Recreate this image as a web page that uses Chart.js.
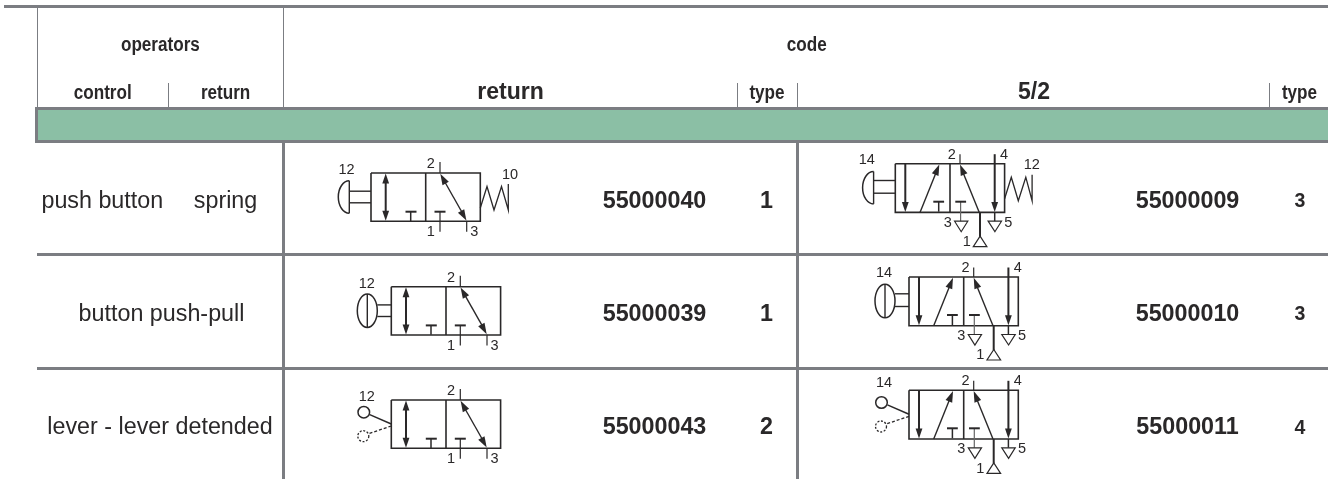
<!DOCTYPE html>
<html>
<head>
<meta charset="utf-8">
<title>Valve table</title>
<script src="https://cdn.jsdelivr.net/npm/chart.js@4"></script>
<style>
  html, body { margin: 0; padding: 0; background: #fff; }
  canvas { display: block; }
</style>
</head>
<body>
<canvas id="valveTable" width="1328" height="479"></canvas>
<script>
// table content
const controlLabels = ['push button', 'button push-pull', 'lever - lever detended'];
const returnLabels = ['spring', '', ''];
const codes3way = ['55000040', '55000039', '55000043'];
const types3way = ['1', '1', '2'];
const codes5way = ['55000009', '55000010', '55000011'];
const types5way = ['3', '3', '4'];
const operatorKinds = ['button', 'knob', 'lever'];
const headerTop = ['operators', 'code'];
const headerSub = ['control', 'return', 'return', 'type', '5/2', 'type'];

// table grid, in picture units
const rowBaseline = [207.5, 320.5, 434];
const controlX = [102.3, 161.5, 160];
const returnX = [225.5, 0, 0];
const headerTopX = [160.4, 806.7];
const headerSubX = [102.7, 225.6, 510.5, 767, 1034, 1299.5];
const anchors3way = [[371, 173], [391.3, 286.7], [391.3, 400]];
const anchors5way = [[895.3, 163.7], [909, 277], [909, 390.3]];

const INK = '#2a2829';
const RULE = '#7b7d82';
const BAND = '#8bbfa5';
const SANS = '"Liberation Sans", Arial, sans-serif';

const thickRules = [
  [[4, 6.5], [1328, 6.5]],
  [[36, 108.5], [1328, 108.5]],
  [[36, 141.5], [1328, 141.5]],
  [[37, 254.5], [1328, 254.5]],
  [[37, 368.5], [1328, 368.5]],
  [[36.5, 107], [36.5, 143]],
  [[283.5, 142], [283.5, 479]],
  [[797.5, 142], [797.5, 479]]
];
const thinRules = [
  [[37.5, 6], [37.5, 108]],
  [[283.5, 6], [283.5, 108]],
  [[168.5, 83], [168.5, 108]],
  [[737.5, 83], [737.5, 108]],
  [[797.5, 83], [797.5, 108]],
  [[1269.5, 83], [1269.5, 108]]
];

function ruleData(rules) {
  const out = [];
  rules.forEach(r => {
    r.forEach(p => out.push({ x: p[0], y: p[1] }));
    out.push({ x: NaN, y: NaN });
  });
  return out;
}

function ruleSet(rules, color, width) {
  return {
    data: ruleData(rules),
    showLine: true,
    borderColor: color,
    borderWidth: width,
    borderCapStyle: 'butt',
    pointRadius: 0,
    spanGaps: false
  };
}

// draws through the chart's scales
function pen(chart) {
  const ctx = chart.ctx;
  const sx = chart.scales.x, sy = chart.scales.y;
  const X = v => sx.getPixelForValue(v);
  const Y = v => sy.getPixelForValue(v);
  return {
    ctx, X, Y,
    line(pts, w, color, dash) {
      ctx.beginPath();
      pts.forEach((p, i) => i ? ctx.lineTo(X(p[0]), Y(p[1])) : ctx.moveTo(X(p[0]), Y(p[1])));
      ctx.lineWidth = w;
      ctx.strokeStyle = color || INK;
      ctx.setLineDash(dash || []);
      ctx.lineJoin = 'miter';
      ctx.stroke();
      ctx.setLineDash([]);
    },
    shape(pts, fill) {
      ctx.beginPath();
      pts.forEach((p, i) => i ? ctx.lineTo(X(p[0]), Y(p[1])) : ctx.moveTo(X(p[0]), Y(p[1])));
      ctx.closePath();
      ctx.lineWidth = 1.2;
      ctx.strokeStyle = INK;
      if (fill) { ctx.fillStyle = INK; ctx.fill(); } else { ctx.fillStyle = '#fff'; ctx.fill(); ctx.stroke(); }
    },
    ellipse(cx, cy, rx, ry, from, to, w, dash) {
      ctx.beginPath();
      ctx.ellipse(X(cx), Y(cy), rx, ry, 0, from, to);
      ctx.lineWidth = w;
      ctx.strokeStyle = INK;
      ctx.setLineDash(dash || []);
      ctx.stroke();
      ctx.setLineDash([]);
    },
    text(str, x, y, font, squeeze, baseline) {
      ctx.save();
      ctx.font = font;
      ctx.fillStyle = INK;
      ctx.textAlign = 'center';
      ctx.textBaseline = baseline || 'middle';
      ctx.translate(X(x), Y(y));
      ctx.scale(squeeze || 1, 1);
      ctx.fillText(str, 0, 0);
      ctx.restore();
    }
  };
}

function arrowHead(p, tip, from, len, half) {
  const dx = from[0] - tip[0], dy = from[1] - tip[1];
  const d = Math.hypot(dx, dy);
  const ux = dx / d, uy = dy / d;
  p.shape([
    tip,
    [tip[0] + ux * len - uy * half, tip[1] + uy * len + ux * half],
    [tip[0] + ux * len + uy * half, tip[1] + uy * len - ux * half]
  ], true);
}

function drawOperator(p, kind, ox, oy, h5) {
  const rodA = oy + (h5 ? 16.8 : 18.2);
  const rodB = oy + (h5 ? 29.5 : 29.8);
  if (kind === 'button') {
    p.line([[ox, rodA], [ox - 22, rodA]], 1.4);
    p.line([[ox, rodB], [ox - 22, rodB]], 1.4);
    p.ellipse(ox - 21.7, oy + 24, 11, 16.2, Math.PI / 2, Math.PI * 1.5, 1.5);
    p.line([[ox - 21.7, oy + 7.8], [ox - 21.7, oy + 40.2]], 1.4);
  } else if (kind === 'knob') {
    p.line([[ox, rodA], [ox - 14, rodA]], 1.4);
    p.line([[ox, rodB], [ox - 14, rodB]], 1.4);
    p.ellipse(ox - 24, oy + 24, 10, 16.7, 0, Math.PI * 2, 1.5);
    p.line([[ox - 24, oy + 7.3], [ox - 24, oy + 40.7]], 1.4);
  } else {
    p.ellipse(ox - 27.5, oy + 12.2, 5.8, 5.8, 0, Math.PI * 2, 1.5);
    p.line([[ox - 21.6, oy + 14.6], [ox, oy + 24]], 1.5);
    p.line([[ox, oy + 26], [ox - 22.5, oy + 33.6]], 1.3, INK, [3, 2]);
    p.ellipse(ox - 28, oy + 36.2, 5.5, 5.5, 0, Math.PI * 2, 1.3, [2, 1.6]);
  }
}

function drawSpring(p, ox, oy, five) {
  const end = five ? 136.8 : 137.3;
  p.line([[ox + 109.3, oy + 35], [ox + 116, oy + 13.5], [ox + 123, oy + 37], [ox + 130.5, oy + 13.5], [ox + end, oy + 37], [ox + end, oy + 11]], 1.3);
}

function drawValve3(p, kind, ox, oy) {
  const small = '14.5px ' + SANS;
  p.line([[ox, oy], [ox + 109.3, oy], [ox + 109.3, oy + 48.3], [ox, oy + 48.3], [ox, oy]], 1.6);
  p.line([[ox + 54.7, oy], [ox + 54.7, oy + 48.3]], 1.6);
  // first position
  p.line([[ox + 14.7, oy + 5], [ox + 14.7, oy + 43]], 2);
  arrowHead(p, [ox + 14.7, oy + 0.5], [ox + 14.7, oy + 10], 10, 3.4);
  arrowHead(p, [ox + 14.7, oy + 47.8], [ox + 14.7, oy + 38], 10, 3.4);
  p.line([[ox + 39.7, oy + 38.7], [ox + 39.7, oy + 48]], 1.5);
  p.line([[ox + 34.5, oy + 38.7], [ox + 45.5, oy + 38.7]], 2);
  // second position
  p.line([[ox + 69, oy + 38.7], [ox + 69, oy + 58.7]], 1.2);
  p.line([[ox + 63.5, oy + 38.7], [ox + 74.5, oy + 38.7]], 2);
  p.line([[ox + 69, oy - 11], [ox + 69, oy]], 1.2);
  p.line([[ox + 95.7, oy + 48], [ox + 95.7, oy + 58.7]], 1.2);
  p.line([[ox + 71, oy + 4], [ox + 93.7, oy + 44]], 1.4);
  arrowHead(p, [ox + 69.3, oy + 0.8], [ox + 95.7, oy + 48], 11, 3.6);
  arrowHead(p, [ox + 95.4, oy + 47.5], [ox + 69, oy], 11, 3.6);
  drawOperator(p, kind, ox, oy, false);
  if (kind === 'button') {
    drawSpring(p, ox, oy, false);
    p.text('10', ox + 139, oy + 2, small);
  }
  p.text('12', ox - 24.5, oy - 3, small);
  p.text('2', ox + 59.7, oy - 9.2, small);
  p.text('1', ox + 59.7, oy + 59, small);
  p.text('3', ox + 103.2, oy + 59.3, small);
}

function drawValve5(p, kind, ox, oy) {
  const small = '14.5px ' + SANS;
  p.line([[ox, oy], [ox + 109.3, oy], [ox + 109.3, oy + 48.7], [ox, oy + 48.7], [ox, oy]], 1.6);
  p.line([[ox + 54.7, oy], [ox + 54.7, oy + 48.7]], 1.6);
  // first position
  p.line([[ox + 10, oy], [ox + 10, oy + 40]], 2);
  arrowHead(p, [ox + 10, oy + 48.2], [ox + 10, oy + 38], 10, 3.4);
  p.line([[ox + 24.7, oy + 48.7], [ox + 41.5, oy + 7]], 1.4);
  arrowHead(p, [ox + 44, oy + 0.8], [ox + 24.7, oy + 48.7], 11, 3.6);
  p.line([[ox + 43.4, oy + 38], [ox + 43.4, oy + 48]], 1.5);
  p.line([[ox + 38, oy + 38], [ox + 48.8, oy + 38]], 2);
  // second position
  p.line([[ox + 65.3, oy + 38], [ox + 65.3, oy + 58]], 1.2, '#666');
  p.line([[ox + 60, oy + 38], [ox + 70.8, oy + 38]], 2);
  p.shape([[ox + 59.3, oy + 57.5], [ox + 72.5, oy + 57.5], [ox + 65.9, oy + 68]]);
  p.line([[ox + 64.7, oy - 9.5], [ox + 64.7, oy]], 1.2);
  p.line([[ox + 84, oy + 48.7], [ox + 67, oy + 7]], 1.4);
  arrowHead(p, [ox + 64.7, oy + 0.8], [ox + 84, oy + 48.7], 11, 3.6);
  p.line([[ox + 99.4, oy - 9.5], [ox + 99.4, oy + 40]], 2);
  arrowHead(p, [ox + 99.4, oy + 48.2], [ox + 99.4, oy + 38], 10, 3.4);
  p.line([[ox + 99.4, oy + 48.7], [ox + 99.4, oy + 58]], 1.5);
  p.shape([[ox + 92.8, oy + 57.5], [ox + 106.2, oy + 57.5], [ox + 99.6, oy + 68]]);
  p.line([[ox + 84.7, oy + 48.7], [ox + 84.7, oy + 73]], 2);
  p.shape([[ox + 84.8, oy + 72.5], [ox + 78, oy + 83], [ox + 91.6, oy + 83]]);
  drawOperator(p, kind, ox, oy, true);
  if (kind === 'button') {
    drawSpring(p, ox, oy, true);
    p.text('12', ox + 136.4, oy + 1.3, small);
  }
  p.text('14', ox + (kind === 'button' ? -28.6 : -25), oy + (kind === 'lever' ? -7 : -4), small);
  p.text('2', ox + 56.6, oy - 9, small);
  p.text('4', ox + 108.7, oy - 9, small);
  p.text('3', ox + 52.4, oy + 59, small);
  p.text('5', ox + 113, oy + 59, small);
  p.text('1', ox + 71.4, oy + 78.4, small);
}

const tableCells = {
  id: 'tableCells',
  afterDatasetsDraw(chart) {
    const p = pen(chart);
    const head = 'bold 20px ' + SANS;
    const big = 'bold 24px ' + SANS;
    const body = '23.3px ' + SANS;
    const bold = 'bold 23.3px ' + SANS;

    headerTop.forEach((t, i) => p.text(t, headerTopX[i], 50.7, head, 0.855, 'alphabetic'));
    headerSub.forEach((t, i) => {
      const isBig = i === 2 || i === 4;
      p.text(t, headerSubX[i], 99, isBig ? big : head, isBig ? 0.96 : 0.855, 'alphabetic');
    });

    rowBaseline.forEach((y, i) => {
      p.text(controlLabels[i], controlX[i], y, body, 1, 'alphabetic');
      if (returnLabels[i]) p.text(returnLabels[i], returnX[i], y, body, 1, 'alphabetic');
      p.text(codes3way[i], 654.5, y, bold, 1, 'alphabetic');
      p.text(types3way[i], 766.5, y, bold, 1, 'alphabetic');
      p.text(codes5way[i], 1187.5, y, bold, 1, 'alphabetic');
      p.text(types5way[i], 1300, y - 0.5, 'bold 19.5px ' + SANS, 1, 'alphabetic');
      drawValve3(p, operatorKinds[i], anchors3way[i][0], anchors3way[i][1]);
      drawValve5(p, operatorKinds[i], anchors5way[i][0], anchors5way[i][1]);
    });
  }
};

new Chart(document.getElementById('valveTable'), {
  type: 'scatter',
  data: {
    datasets: [
      ruleSet(thinRules, RULE, 1),
      ruleSet(thickRules, RULE, 3),
      ruleSet([[[36, 125], [1328, 125]]], BAND, 33)
    ]
  },
  options: {
    responsive: false,
    animation: false,
    events: [],
    layout: { padding: 0 },
    plugins: { legend: { display: false }, tooltip: { enabled: false }, title: { display: false } },
    scales: {
      x: { type: 'linear', min: 0, max: 1328, display: false },
      y: { type: 'linear', min: 0, max: 479, reverse: true, display: false }
    }
  },
  plugins: [tableCells]
});
</script>
</body>
</html>
